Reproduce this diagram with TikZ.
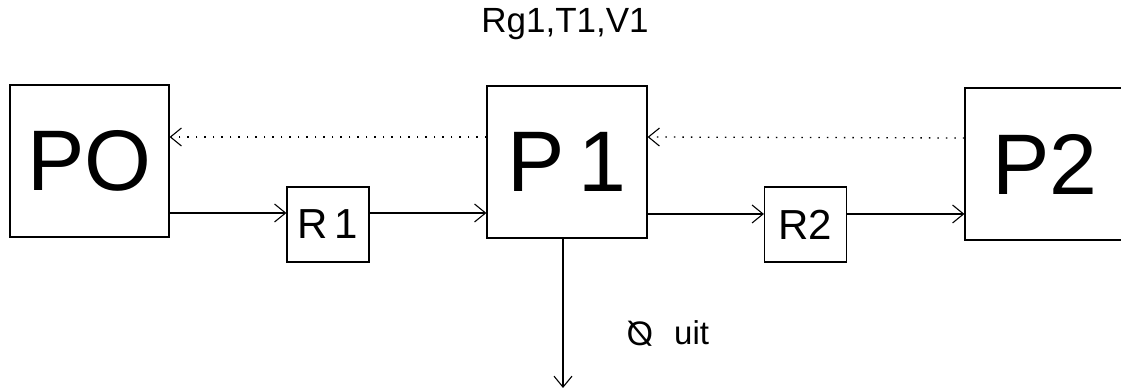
\documentclass[tikz,border=0pt]{standalone}
\usepackage{fontspec}
\setmainfont{Liberation Sans}
\usetikzlibrary{arrows.meta}

\begin{document}
\begin{tikzpicture}[x=1pt, y=1pt,
    box/.style={draw, line width=1.2pt, inner sep=0pt, font=\fontsize{86}{86}\selectfont},
    smallbox/.style={draw, line width=1.2pt, inner sep=0pt, minimum width=82pt, minimum height=75pt, font=\fontsize{42}{42}\selectfont},
    flow/.style={line width=1.1pt, -{Straight Barb[length=11pt, width=18pt, line width=1.1pt]}},
    back/.style={flow, line width=1.3pt, dash pattern=on 1.5pt off 7pt}]
    \useasboundingbox (0, 0) rectangle (1121, 390);

    % Blokken
    \node[box, minimum width=159pt, minimum height=152pt] (P0) at (89.5, 229) {PO};
    \node[box, minimum width=160pt, minimum height=152pt] (P1) at (567, 228) {P\,1};
    \node[box, minimum width=160pt, minimum height=152pt] (P2) at (1045, 226) {P2};
    \node[smallbox] (R1) at (328, 165.5) {R\,1};
    \node[smallbox] (R2) at (805.5, 165.5) {R2};

    % Terugkoppeling
    \draw[back] ([yshift=25pt]P1.west) -- ([yshift=24pt]P0.east);
    \draw[back] ([yshift=26pt]P2.west) -- ([yshift=25pt]P1.east);

    % Doorstroming
    \draw[flow] (P0.east |- 0, 177) -- (R1.west |- 0, 177);
    \draw[flow] (R1.east |- 0, 177) -- (P1.west |- 0, 177);
    \draw[flow] (P1.east |- 0, 176) -- (R2.west |- 0, 176);
    \draw[flow] (R2.east |- 0, 176) -- (P2.west |- 0, 176);

    % Uitgang
    \coordinate (out) at (563, 2);
    \draw[flow] (P1.south -| out) -- (out);

    \node[anchor=base, font=\fontsize{35}{35}\selectfont] (title) at (565, 357) {Rg1,T1,V1};
    \node[font=\fontsize{34}{34}\selectfont] (phi) at (640, 56) {\reflectbox{Ø}};
    \node[anchor=base west, inner sep=0pt, font=\fontsize{33}{33}\selectfont] (uit) at (674, 45) {uit};
\end{tikzpicture}
\end{document}
